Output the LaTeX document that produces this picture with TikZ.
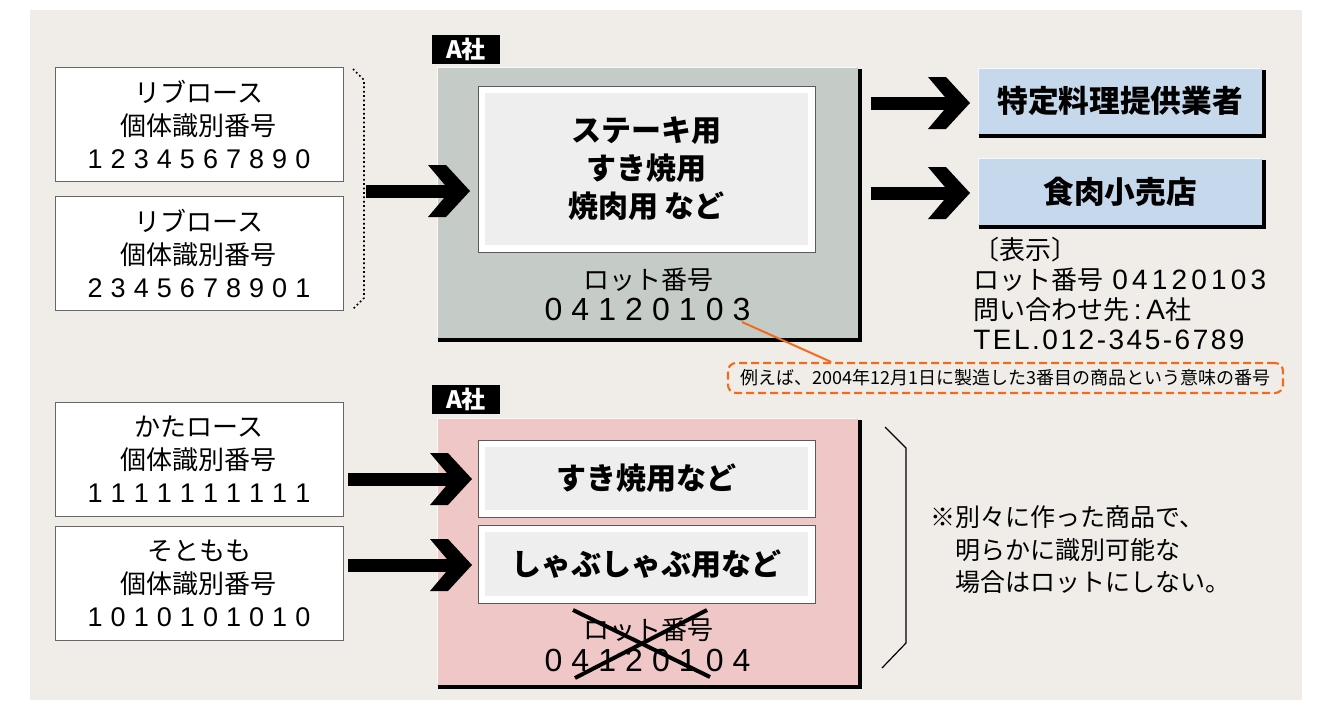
\documentclass[tikz,border=0pt]{standalone}
\usepackage{fontspec}
\setmainfont{Noto Sans CJK JP}
\newfontfamily\lat{Liberation Sans}
\usetikzlibrary{calc}
\definecolor{bg}{HTML}{F0ECE8}
\definecolor{boxgray}{HTML}{C5CCC8}
\definecolor{boxpink}{HTML}{F0C7C7}
\definecolor{boxblue}{HTML}{C6D8EC}
\definecolor{panelgray}{HTML}{EEEEEE}
\definecolor{callorange}{HTML}{F26B1D}
\def\spaced#1#2{\def\spw{#1}\spacedi#2\relax}
\def\spacedi#1{\ifx#1\relax\else\makebox[\spw]{#1}\expandafter\spacedi\fi}
\newcommand\idnum[1]{{\lat\fontsize{20.25}{24.75}\selectfont\spaced{0.855em}{#1}}}
\newcommand\lotnum[1]{{\lat\fontsize{24}{26}\selectfont\spaced{0.84em}{#1}}}
\newcommand\shadowed[1]{%
  \draw[white!55!black!5, line width=1.2pt] ([shift={(0.6pt,0.6pt)}]#1.south west) -- ([shift={(0.6pt,-0.6pt)}]#1.north west) -- ([shift={(-0.6pt,-0.6pt)}]#1.north east);
  \draw[black, line width=3pt, line join=miter] ([shift={(1.5pt,-2pt)}]#1.north east) -- ([shift={(1.5pt,-1.5pt)}]#1.south east) -- ([shift={(1pt,-1.5pt)}]#1.south west);}
\newcommand\headat[1]{\fill[black] (#1) -- ++(-24,-26) -- ++(-18,0) -- ++(22,26) -- ++(-22,26) -- ++(18,0) -- cycle;}
\begin{document}
\begin{tikzpicture}[x=0.75pt,y=-0.75pt,
  idbox/.style={draw=black!60, fill=white, line width=0.75pt, minimum width=288*0.75pt, minimum height=114*0.75pt, inner sep=0pt, align=center, font=\fontsize{19.5}{24.75}\selectfont},
  tag/.style={fill=black, text=white, inner sep=0pt, minimum width=68*0.75pt, minimum height=29*0.75pt, font=\bfseries\fontsize{18}{20}\selectfont},
  bigbox/.style={inner sep=0pt, minimum width=421*0.75pt},
  bluebox/.style={fill=boxblue, inner sep=0pt, minimum width=284*0.75pt, font=\bfseries\fontsize{23}{26}\selectfont},
  panel/.style={fill=white, draw=black!65, line width=0.75pt, inner sep=0pt, minimum width=337*0.75pt, align=center, font=\bfseries\fontsize{22.5}{28.5}\selectfont,
    path picture={\fill[panelgray] ($(path picture bounding box.north west)+(5pt,-5pt)$) rectangle ($(path picture bounding box.south east)+(-5pt,5pt)$);}},
  plain/.style={inner sep=0pt, font=\fontsize{19.5}{23.25}\selectfont},
  shaft/.style={line width=9.75pt, black},
]
\useasboundingbox (0,0) rectangle (1322,711);
\fill[bg] (30,10) rectangle (1302,700);

% left id boxes
\node[idbox] (L1) at (199,124) {リブロース\\個体識別番号\\\idnum{1234567890}};
\node[idbox] (L2) at (199,253.5) {リブロース\\個体識別番号\\\idnum{2345678901}};
\node[idbox] (L3) at (199,459) {かたロース\\個体識別番号\\\idnum{1111111111}};
\node[idbox] (L4) at (199,583) {そともも\\個体識別番号\\\idnum{1010101010}};

% dotted bracket
\draw[dotted, line width=1.3pt] (353,69) -- (364,80) -- (364,298) -- (353,309);
\coordinate (brk) at (366,191);

% upper company box
\node[tag] (tagA) at (466,49.5) {A社};
\node[bigbox, fill=boxgray, minimum height=271*0.75pt] (G) at (647.5,202.5) {};
\shadowed{G}
\node[panel, minimum height=166*0.75pt] (P1) at (646.5,169) {ステーキ用\\すき焼用\\焼肉用 など};
\node[plain] (lot1) at (648,280) {ロット番号};
\node[plain] (num1) at (647.5,309) {\lotnum{04120103}};

\coordinate (t1) at (470,191);
\draw[shaft] (brk) -- ([xshift=-15pt]t1);
\headat{t1}

% right boxes
\node[bluebox, minimum height=66*0.75pt] (B1) at (1120,101) {特定料理提供業者};
\shadowed{B1}
\node[bluebox, minimum height=67*0.75pt] (B2) at (1120,191.5) {食肉小売店};
\shadowed{B2}
\coordinate (s2) at (871,103);
\coordinate (t2) at (970,103);
\coordinate (s3) at (871,193);
\coordinate (t3) at (970,193);
\draw[shaft] (s2) -- ([xshift=-15pt]t2);
\headat{t2}
\draw[shaft] (s3) -- ([xshift=-15pt]t3);
\headat{t3}

\node[plain, anchor=west, align=left, font=\fontsize{19.5}{22.5}\selectfont] (disp) at (973,293) {〔表示〕\\ロット番号\hspace{0.35em}{\lat\fontsize{21}{22.5}\selectfont\addfontfeature{LetterSpace=15}04120103}\\問い合わせ先{\lat\fontsize{21}{22.5}\selectfont\,:\,A}社\\{\lat\fontsize{21}{22.5}\selectfont\addfontfeature{LetterSpace=9}TEL.012-345-6789}};

% callout
\node[draw=callorange, dashed, dash pattern=on 6pt off 3pt, line width=1.6pt, rounded corners=6pt, minimum width=555*0.75pt, minimum height=30*0.75pt, inner sep=0pt, font=\fontsize{13.5}{15}\selectfont] (call) at (1005.5,378) {例えば、2004年12月1日に製造した3番目の商品という意味の番号};
\coordinate (callpt) at (742,322);
\draw[callorange, line width=1.5pt] (callpt) -- ($(call.north west)!0.187!(call.north east)$);

% lower company box
\node[tag] (tagB) at (466,399.5) {A社};
\node[bigbox, fill=boxpink, minimum height=267*0.75pt] (K) at (647.5,551.5) {};
\shadowed{K}
\node[panel, minimum height=77*0.75pt] (P2) at (646.5,478.5) {すき焼用など};
\node[panel, minimum height=78*0.75pt] (P3) at (646.5,564) {しゃぶしゃぶ用など};
\node[plain] (lot2) at (648,630) {ロット番号};
\node[plain] (num2) at (647.5,660) {\lotnum{04120104}};
\draw[line width=3pt] (573,610) -- (710,677);
\draw[line width=3pt] (707,610) -- (575,678);

\coordinate (s4) at (348,479);
\coordinate (t4) at (472,479);
\coordinate (s5) at (348,565);
\coordinate (t5) at (472,565);
\draw[shaft] (s4) -- ([xshift=-15pt]t4);
\headat{t4}
\draw[shaft] (s5) -- ([xshift=-15pt]t5);
\headat{t5}

% bracket and note
\draw[line width=0.9pt] (885,427) -- (906,448) -- (906,643) -- (882,668);
\node[inner sep=0pt, anchor=west, align=left, font=\fontsize{18.75}{24.4}\selectfont] (note) at (930,550) {※別々に作った商品で、\\\hspace*{1em}明らかに識別可能な\\\hspace*{1em}場合はロットにしない。};
\end{tikzpicture}
\end{document}
